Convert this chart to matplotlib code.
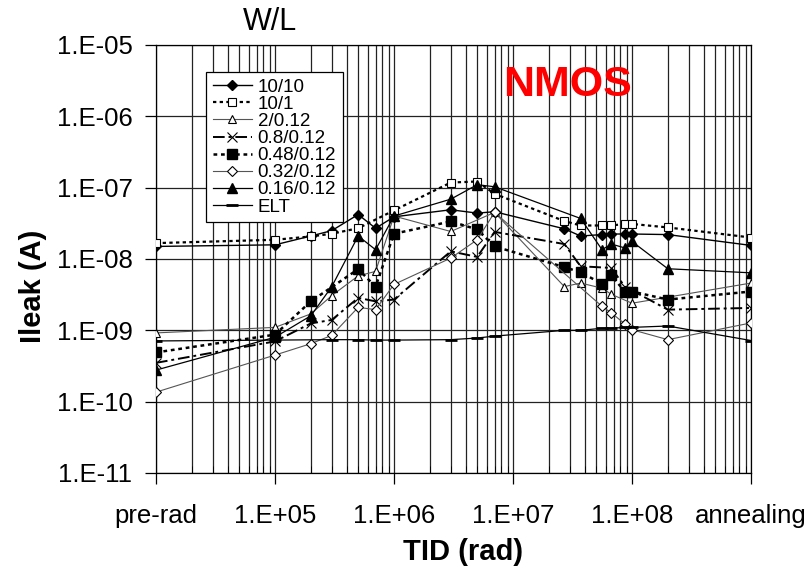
import matplotlib
matplotlib.use("Agg")
import matplotlib.pyplot as plt
from matplotlib.ticker import FixedLocator, NullFormatter, LogLocator

plt.rcParams['font.family'] = ['Liberation Sans', 'DejaVu Sans']

# x positions: pre-rad plotted at 1e4, annealing at 1e9
x_ticks = [1e4, 1e5, 1e6, 1e7, 1e8, 1e9]
x_tick_labels = ['pre-rad', '1.E+05', '1.E+06', '1.E+07', '1.E+08', 'annealing']
y_ticks = [1e-11, 1e-10, 1e-9, 1e-8, 1e-7, 1e-6, 1e-5]
y_tick_labels = ['1.E-11', '1.E-10', '1.E-09', '1.E-08', '1.E-07', '1.E-06', '1.E-05']

labels = ['10/10', '10/1', '2/0.12', '0.8/0.12', '0.48/0.12', '0.32/0.12', '0.16/0.12', 'ELT']

x_1010 = [1e4, 1e5, 2e5, 3e5, 5e5, 7e5, 1e6, 3e6, 5e6, 7e6, 2.7e7, 3.7e7, 5.6e7, 6.7e7, 8.7e7, 1e8, 2e8, 1e9]
y_1010 = [1.5e-8, 1.58e-8, 2.1e-8, 2.5e-8, 4.2e-8, 2.7e-8, 3.9e-8, 4.9e-8, 4.4e-8, 4.6e-8, 2.65e-8, 2.1e-8, 2.2e-8, 2.24e-8, 2.24e-8, 2.24e-8, 2.2e-8, 1.55e-8]

x_101 = [1e4, 1e5, 2e5, 3e5, 5e5, 1e6, 3e6, 5e6, 7e6, 2.7e7, 3.7e7, 5.6e7, 6.7e7, 8.7e7, 1e8, 2e8, 1e9]
y_101 = [1.67e-8, 1.86e-8, 2.07e-8, 2.26e-8, 2.7e-8, 4.8e-8, 1.18e-7, 1.22e-7, 8.2e-8, 3.4e-8, 2.95e-8, 2.95e-8, 2.95e-8, 3.1e-8, 3.1e-8, 2.77e-8, 2.0e-8]

x_2 = [1e4, 1e5, 2e5, 3e5, 5e5, 7e5, 1e6, 3e6, 7e6, 2.7e7, 3.7e7, 5.6e7, 6.7e7, 1e8, 1e9]
y_2 = [9.2e-10, 1.1e-9, 1.7e-9, 3.07e-9, 5.8e-9, 6.7e-9, 4.0e-8, 2.43e-8, 4.5e-8, 4.1e-9, 4.6e-9, 3.9e-9, 3.2e-9, 2.4e-9, 4.6e-9]

x_08 = [1e4, 1e5, 2e5, 3e5, 5e5, 7e5, 1e6, 3e6, 5e6, 7e6, 2.7e7, 3.7e7, 6.7e7, 8.7e7, 2e8, 1e9]
y_08 = [3.5e-10, 7.0e-10, 1.25e-9, 1.4e-9, 2.85e-9, 2.55e-9, 2.7e-9, 1.28e-8, 1.07e-8, 2.4e-8, 1.62e-8, 7.9e-9, 7.5e-9, 4.1e-9, 1.95e-9, 2.06e-9]

x_048 = [1e4, 1e5, 2e5, 5e5, 7e5, 1e6, 3e6, 5e6, 7e6, 2.7e7, 3.7e7, 5.6e7, 6.7e7, 8.7e7, 1e8, 2e8, 1e9]
y_048 = [4.9e-10, 8.7e-10, 2.55e-9, 7.2e-9, 4.1e-9, 2.26e-8, 3.36e-8, 2.6e-8, 1.5e-8, 7.7e-9, 6.5e-9, 4.5e-9, 5.9e-9, 3.5e-9, 3.5e-9, 2.7e-9, 3.5e-9]

x_032 = [1e4, 1e5, 2e5, 3e5, 5e5, 7e5, 1e6, 3e6, 5e6, 7e6, 5.6e7, 6.7e7, 8.7e7, 1e8, 2e8, 1e9]
y_032 = [1.36e-10, 4.5e-10, 6.5e-10, 8.5e-10, 2.1e-9, 1.95e-9, 4.4e-9, 1.03e-8, 1.86e-8, 4.5e-8, 2.17e-9, 1.76e-9, 1.23e-9, 1.02e-9, 7.4e-10, 1.27e-9]

x_016 = [1e4, 1e5, 2e5, 3e5, 5e5, 7e5, 1e6, 3e6, 5e6, 7e6, 3.7e7, 5.6e7, 6.7e7, 8.7e7, 1e8, 2e8, 1e9]
y_016 = [2.77e-10, 8.0e-10, 1.6e-9, 4.1e-9, 2.1e-8, 1.35e-8, 4.0e-8, 6.9e-8, 1.1e-7, 1.03e-7, 3.7e-8, 1.35e-8, 1.62e-8, 1.43e-8, 1.76e-8, 7.3e-9, 6.4e-9]

x_elt = [1e4, 1e5, 3e5, 5e5, 7e5, 1e6, 3e6, 5e6, 7e6, 2.7e7, 3.7e7, 5.6e7, 6.7e7, 8.7e7, 1e8, 2e8, 1e9]
y_elt = [7.1e-10, 7.3e-10, 7.4e-10, 7.4e-10, 7.3e-10, 7.3e-10, 7.4e-10, 7.8e-10, 8.3e-10, 1.0e-9, 1.0e-9, 1.07e-9, 1.07e-9, 1.1e-9, 1.1e-9, 1.15e-9, 7.2e-10]

fig = plt.figure(figsize=(8.06, 5.71), dpi=100)
ax = fig.add_axes([156/806, 1 - 473/571, (751-156)/806, (473-45)/571])
ax.set_xscale('log')
ax.set_yscale('log')
ax.set_xlim(1e4, 1e9)
ax.set_ylim(1e-11, 1e-5)

gray = '#555555'
series = [
    (x_1010, y_1010, dict(color='black', ls='-', lw=1.0, marker='D', ms=5, mfc='black', mec='black')),
    (x_101, y_101, dict(color='black', ls=(0, (1.5, 1.5)), lw=1.6, marker='s', ms=6, mfc='white', mec='black', mew=0.8)),
    (x_2, y_2, dict(color=gray, ls='-', lw=0.8, marker='^', ms=6, mfc='white', mec='black', mew=0.8)),
    (x_08, y_08, dict(color='black', ls=(0, (6, 2, 1.5, 2)), lw=1.4, marker='x', ms=7, mec='black', mew=0.8)),
    (x_048, y_048, dict(color='black', ls=(0, (1.5, 1.5)), lw=1.8, marker='s', ms=6.5, mfc='black', mec='black')),
    (x_032, y_032, dict(color=gray, ls='-', lw=0.8, marker='D', ms=5, mfc='white', mec='black', mew=0.8)),
    (x_016, y_016, dict(color='black', ls='-', lw=0.9, marker='^', ms=6.5, mfc='black', mec='black')),
    (x_elt, y_elt, dict(color='black', ls='-', lw=0.9, marker='_', ms=8, mew=2.0, mec='black')),
]
handles = []
for (xs, ys, kw), lab in zip(series, labels):
    h, = ax.plot(xs, ys, label=lab, zorder=3, **kw)
    handles.append(h)

# grid
ax.xaxis.set_major_locator(FixedLocator(x_ticks))
ax.xaxis.set_minor_locator(LogLocator(base=10, subs=range(2, 10), numticks=20))
ax.xaxis.set_minor_formatter(NullFormatter())
ax.set_xticklabels(x_tick_labels)
ax.yaxis.set_major_locator(FixedLocator(y_ticks))
ax.yaxis.set_minor_locator(FixedLocator([]))
ax.set_yticklabels(y_tick_labels)
ax.grid(True, which='major', axis='both', color='#222222', lw=0.9)
ax.grid(True, which='minor', axis='x', color='#222222', lw=0.9)
ax.tick_params(axis='both', which='major', labelsize=18.5, length=8, width=0.9, direction='out', colors='black')
ax.tick_params(axis='x', which='major', pad=14)
ax.tick_params(axis='y', which='major', pad=9)
ax.tick_params(axis='x', which='minor', length=5, direction='in')
for s in ax.spines.values():
    s.set_linewidth(0.9)

ax.set_ylabel('Ileak (A)', fontsize=21, fontweight='bold')
ax.yaxis.set_label_coords((47 - 156)/595, (473 - 286)/428)
ax.set_xlabel('TID (rad)', fontsize=21, fontweight='bold')
ax.xaxis.set_label_coords((463 - 156)/595, (473 - 538)/428)

fig.text(270/806, 1 - 22/571, 'W/L', fontsize=22, ha='center', va='center')
fig.text(567/806, 1 - 85/571, 'NMOS', fontsize=31,
         fontweight='bold', color='#ff0000', ha='center', va='center')

leg = ax.legend(handles=handles, loc='upper left', bbox_to_anchor=(206/806, 1 - 72/571),
                bbox_transform=fig.transFigure, fontsize=13.5, frameon=True, fancybox=False,
                edgecolor='black', framealpha=1, borderpad=0.35, labelspacing=0.0,
                handlelength=2.1, handletextpad=0.3, borderaxespad=0)
leg.get_frame().set_linewidth(0.9)
leg.set_zorder(5)

fig.savefig('out.png', dpi=100)
